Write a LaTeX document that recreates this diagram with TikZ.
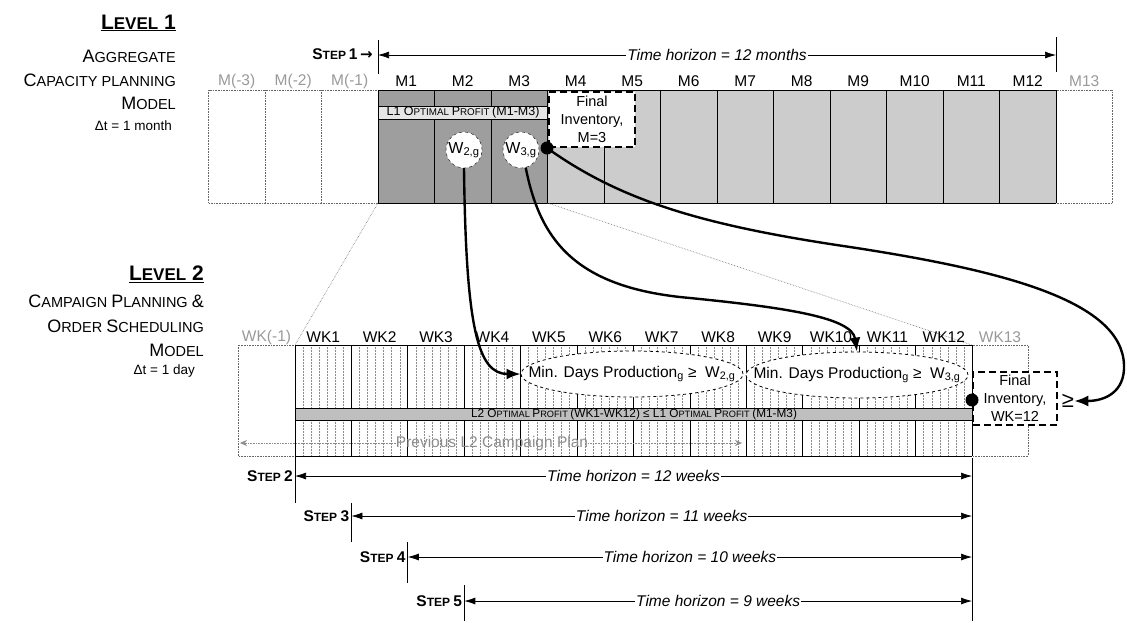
\documentclass[tikz,border=0pt]{standalone}
\usepackage{fontspec}
\setmainfont{Liberation Sans}
\newfontfamily\djv{DejaVu Sans}
\usetikzlibrary{arrows.meta,shapes.geometric,calc}
\newcommand{\bigc}[1]{{\fontsize{18}{19}\selectfont #1}}
\newcommand{\smc}[1]{{\fontsize{14.5}{19}\selectfont #1}}
\newcommand{\bigL}[1]{{\fontsize{21}{22}\selectfont #1}}
\newcommand{\smL}[1]{{\fontsize{17}{22}\selectfont #1}}
\newcommand{\bigS}[1]{{\fontsize{15.5}{16}\selectfont #1}}
\newcommand{\smS}[1]{{\fontsize{12}{16}\selectfont #1}}
\newcommand{\bigB}[1]{{\fontsize{12.5}{13}\selectfont #1}}
\newcommand{\smB}[1]{{\fontsize{9.8}{13}\selectfont #1}}
\newcommand{\bigBB}[1]{{\fontsize{11.8}{12}\selectfont #1}}
\newcommand{\smBB}[1]{{\fontsize{9.2}{12}\selectfont #1}}
\begin{document}
\begin{tikzpicture}[x=1pt,y=-1pt,
  every node/.style={inner sep=0pt},
  mlab/.style={font=\fontsize{15.5}{16}\selectfont},
  glab/.style={mlab, text=black!40},
  dayline/.style={densely dotted, black!45, line width=0.5pt},
  guide/.style={densely dotted, black!55, line width=0.6pt},
  harrow/.style={{Latex[length=11pt,width=7pt]}-{Latex[length=11pt,width=7pt]}, line width=0.7pt},
  htext/.style={fill=white, inner xsep=1pt, inner ysep=1pt, font=\itshape\fontsize{15.5}{16}\selectfont},
  bigarrow/.style={line width=2.4pt, -{Latex[length=14pt,width=11pt]}},
  finv/.style={draw, line width=1.8pt, dash pattern=on 7pt off 4pt, fill=white, align=center, font=\fontsize{14.5}{18}\selectfont},
  wcirc/.style={circle, draw, dashed, fill=white, minimum size=36pt, font=\fontsize{16}{16}\selectfont},
  minell/.style={ellipse, draw, dashed, line width=0.8pt, fill=white, minimum width=222pt, minimum height=46pt},
  ltext/.style={anchor=east},
  stepl/.style={anchor=east, font=\bfseries},
  vline/.style={line width=0.7pt},
  dotbox/.style={densely dotted, black!60, line width=0.6pt}
]
\useasboundingbox (0,0) rectangle (1127,622);

% ---------------- Left labels ----------------
\node[ltext] (lv1) at (176,23) {\bfseries\underline{\bigL{L}\smL{EVEL}\bigL{ 1}}};
\node[ltext] (ag) at (176,56) {\bigc{A}\smc{GGREGATE}};
\node[ltext] (cp) at (176,80) {\bigc{C}\smc{APACITY PLANNING}};
\node[ltext] (md1) at (176,103) {\bigc{M}\smc{ODEL}};
\node[ltext] (dt1) at (172,126) {\fontsize{13.5}{14}\selectfont Δt = 1 month};

\node[ltext] (lv2) at (204,274) {\bfseries\underline{\bigL{L}\smL{EVEL}\bigL{ 2}}};
\node[ltext] (cpo) at (204,301) {\bigc{C}\smc{AMPAIGN }\bigc{P}\smc{LANNING }\bigc{\&}};
\node[ltext] (os) at (204,326) {\bigc{O}\smc{RDER }\bigc{S}\smc{CHEDULING}};
\node[ltext] (md2) at (204,350) {\bigc{M}\smc{ODEL}};
\node[ltext] (dt2) at (195,371) {\fontsize{13.5}{14}\selectfont Δt = 1 day};

% ---------------- Level 1 bar ----------------
\fill[black!38] (378,90) rectangle (547.5,203);
\fill[black!20] (547.5,90) rectangle (1056,203);
\draw[dotbox] (208.5,90) rectangle (378,203);
\draw[dotbox] (265,90) -- (265,203);
\draw[dotbox] (321.5,90) -- (321.5,203);
\draw[dotbox] (1056,90) rectangle (1112.5,203);
\foreach \k in {0,...,12} \draw[vline] (378+\k*56.5,90) -- (378+\k*56.5,203);
\draw[vline] (378,90) -- (1056,90);
\draw[vline] (378,203) -- (1056,203);
\draw[vline, fill=black!10] (378,106) rectangle (547.5,119);
\node (l1band) at (463,112.5) {\bigB{L1 O}\smB{PTIMAL }\bigB{P}\smB{ROFIT }\bigB{(M1-M3)}};

\foreach \i in {1,...,12} \node[mlab] (m\i) at (378+\i*56.5-28.25,81) {M\i};
\node[glab] (mm3) at (236.75,81) {M(-3)};
\node[glab] (mm2) at (293.25,81) {M(-2)};
\node[glab] (mm1) at (349.75,81) {M(-1)};
\node[glab] (m13) at (1084.25,81) {M13};

% Step 1
\node[stepl] (s1) at (373,54) {\bigS{S}\smS{TEP} \bigS{1} {\djv\bfseries\fontsize{15}{16}\selectfont →}};
\coordinate (s1l) at (378,55);
\coordinate (s1r) at (1056,55);
\draw[vline] (378,40) -- (378,74);
\draw[vline] (1056,37) -- (1056,72);
\draw[harrow] (s1l) -- (s1r) node[htext, pos=0.5] (th1) {Time horizon = 12 months};

% Final inventory M=3
\node[finv, minimum width=86pt, minimum height=55pt] (fi1) at (592,119.5) {Final\\Inventory,\\M=3};

% W circles
\node[wcirc] (w2) at (464,150) {W\textsubscript{2,g}};
\node[wcirc] (w3) at (521,150) {W\textsubscript{3,g}};
\fill (547,148) circle (6.5);
\coordinate (d1) at (547,148);

% guide lines between levels
\draw[guide] (378,203) -- (295,345);
\draw[guide] (547.5,203) -- (972,345);

% ---------------- Level 2 bar ----------------
\draw[dotbox] (238,345) rectangle (295,456);
\draw[dotbox] (972,345) rectangle (1028,456);
\foreach \k in {0,...,11} {
  \foreach \j in {1,...,6} {
    \draw[dayline] (295+\k*56.42+\j*8.06,345) -- (295+\k*56.42+\j*8.06,456);
  }
}
\foreach \k in {0,...,12} \draw[vline] (295+\k*56.42,345) -- (295+\k*56.42,456);
\draw[line width=1pt] (520.7,345) -- (520.7,456);
\draw[line width=1pt] (746.4,345) -- (746.4,456);
\draw[vline] (295,345) -- (972,345);
\draw[vline] (295,456) -- (972,456);
\draw[vline, fill=black!25] (295,408) rectangle (972,420);
\node (l2band) at (634,414) {\bigBB{L2 O}\smBB{PTIMAL }\bigBB{P}\smBB{ROFIT }\bigBB{(WK1-WK12) ≤ L1 O}\smBB{PTIMAL }\bigBB{P}\smBB{ROFIT }\bigBB{(M1-M3)}};

\foreach \i in {1,...,12} \node[mlab] (wk\i) at (295+\i*56.42-28.21,337) {WK\i};
\node[glab] (wkm1) at (266.5,337) {WK(-1)};
\node[glab] (wk13) at (1000,337) {WK13};

% previous plan
\node[font=\fontsize{15.5}{16}\selectfont, text=black!45] (prev) at (492,443) {Previous L2 Campaign Plan};
\coordinate (pl) at (240,443);
\coordinate (pr) at (742,443);
\draw[guide, black!45, -{Stealth[length=7pt,width=6pt]}] (prev.west) -- (pl);
\draw[guide, black!45, -{Stealth[length=7pt,width=6pt]}] (prev.east) -- (pr);

% ellipses
\node[minell] (e2) at (632,374) {};
\node[font=\fontsize{15.5}{16}\selectfont] (e2t) at (e2) {Min. Days Production\textsubscript{g} ≥\ \ W\textsubscript{2,g}};
\node[minell] (e3) at (857,375) {};
\node[font=\fontsize{15.5}{16}\selectfont] (e3t) at (e3) {Min. Days Production\textsubscript{g} ≥\ \ W\textsubscript{3,g}};

% final inventory WK=12
\node[finv, minimum width=84pt, minimum height=53pt] (fi2) at (1015,398.5) {Final\\Inventory,\\WK=12};
\fill (972,400) circle (6.5);
\coordinate (d2) at (972,400);
\node[font=\fontsize{22}{22}\selectfont] (geq) at (1068,401) {≥};

% ---------------- connectors ----------------
\draw[bigarrow] (w2.south) .. controls (466,330) and (478,374) .. (e2.west);
\draw[bigarrow] (w3.-75) .. controls (540,240) and (575,288) .. (690,298) .. controls (790,308) and (852,318) .. (e3.north);
\draw[bigarrow] (d1) .. controls (620,200) and (700,225) .. (850,247) .. controls (1000,270) and (1122,300) .. (1124,365) .. controls (1125,392) and (1105,401) .. (geq.east);

% ---------------- steps ----------------
\draw[vline] (295,456) -- (295,503);
\draw[vline] (351.4,503) -- (351.4,542);
\draw[vline] (407.8,542) -- (407.8,583);
\draw[vline] (464.3,585) -- (464.3,621);
\draw[vline] (972,458) -- (972,621);

\node[stepl] (s2) at (293,476) {\bigS{S}\smS{TEP }\bigS{2}};
\node[stepl] (s3) at (349.4,516) {\bigS{S}\smS{TEP }\bigS{3}};
\node[stepl] (s4) at (405.8,557) {\bigS{S}\smS{TEP }\bigS{4}};
\node[stepl] (s5) at (462.3,601) {\bigS{S}\smS{TEP }\bigS{5}};

\coordinate (a2l) at (295,476); \coordinate (a2r) at (972,476);
\coordinate (a3l) at (351.4,516); \coordinate (a3r) at (972,516);
\coordinate (a4l) at (407.8,557); \coordinate (a4r) at (972,557);
\coordinate (a5l) at (464.3,601); \coordinate (a5r) at (972,601);
\draw[harrow] (a2l) -- (a2r) node[htext, pos=0.5] (t2) {Time horizon = 12 weeks};
\draw[harrow] (a3l) -- (a3r) node[htext, pos=0.5] (t3) {Time horizon = 11 weeks};
\draw[harrow] (a4l) -- (a4r) node[htext, pos=0.5] (t4) {Time horizon = 10 weeks};
\draw[harrow] (a5l) -- (a5r) node[htext, pos=0.5] (t5) {Time horizon = 9 weeks};
\end{tikzpicture}
\end{document}
